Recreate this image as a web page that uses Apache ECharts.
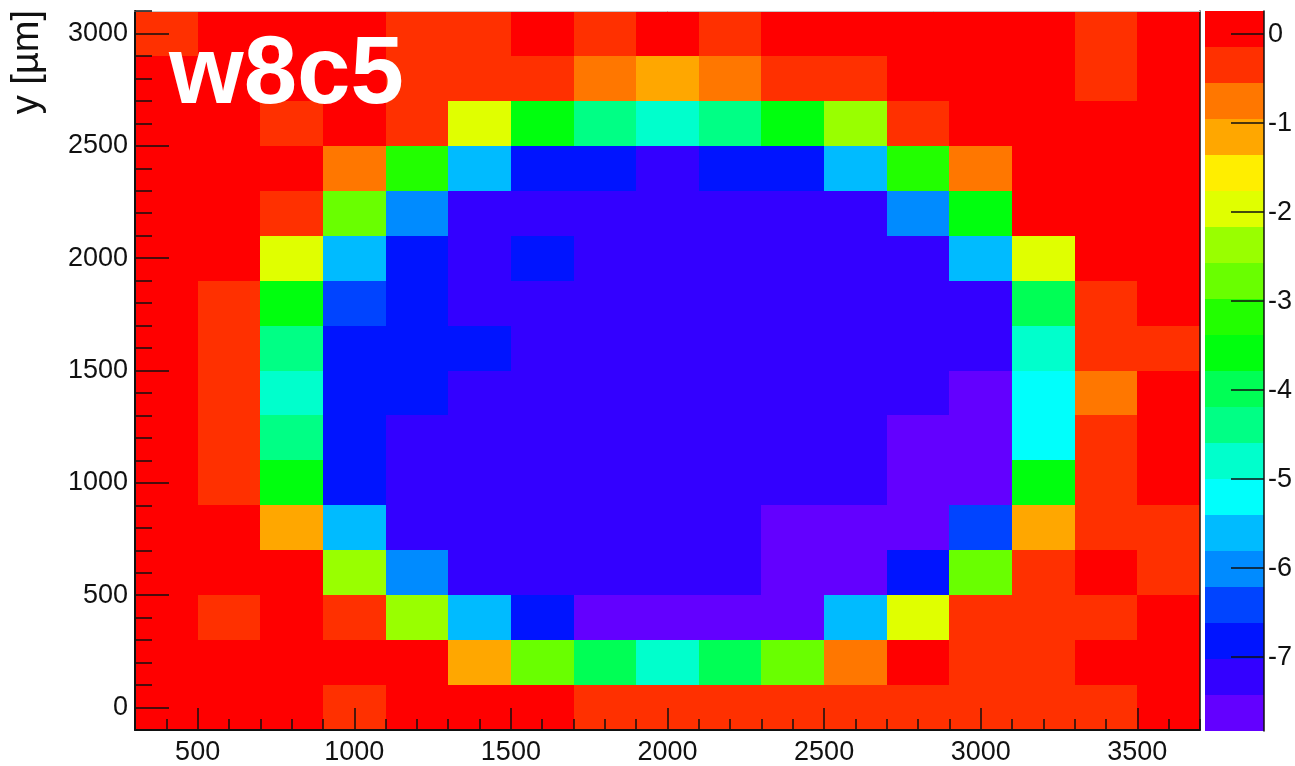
<!DOCTYPE html>
<html>
<head>
<meta charset="utf-8">
<script src="https://cdn.jsdelivr.net/npm/echarts@6/dist/echarts.min.js"></script>
<style>
  html, body { margin: 0; padding: 0; background: #fff; }
  #chart { width: 1295px; height: 766px; }
</style>
</head>
<body>
<div id="chart"></div>
<script>
// Bin centres of the 2D histogram (µm)
const xBins = [400, 600, 800, 1000, 1200, 1400, 1600, 1800, 2000, 2200, 2400, 2600, 2800, 3000, 3200, 3400, 3600];
const yBins = [0, 200, 400, 600, 800, 1000, 1200, 1400, 1600, 1800, 2000, 2200, 2400, 2600, 2800, 3000];

// Cell contents, one row per y bin, listed along x
const z0    = [0.05, 0.05, 0.05, -0.35, 0.05, 0.05, 0.05, -0.35, -0.35, -0.35, -0.35, -0.35, -0.35, -0.35, -0.35, -0.35, 0.05];
const z200  = [0.05, 0.05, 0.05, 0.05, 0.05, -1.15, -2.75, -4.0, -4.8, -4.0, -2.75, -0.75, 0.05, -0.35, -0.35, 0.05, 0.05];
const z400  = [0.05, -0.35, 0.05, -0.35, -2.35, -5.6, -6.8, -7.6, -7.6, -7.6, -7.6, -5.6, -1.95, -0.35, -0.35, -0.35, 0.05];
const z600  = [0.05, 0.05, 0.05, -2.35, -6.0, -7.2, -7.2, -7.2, -7.2, -7.2, -7.6, -7.6, -6.8, -2.75, -0.35, 0.05, -0.35];
const z800  = [0.05, 0.05, -1.15, -5.6, -7.2, -7.2, -7.2, -7.2, -7.2, -7.2, -7.6, -7.6, -7.6, -6.4, -1.15, -0.35, -0.35];
const z1000 = [0.05, -0.35, -3.6, -6.8, -7.2, -7.2, -7.2, -7.2, -7.2, -7.2, -7.2, -7.2, -7.6, -7.6, -3.6, -0.35, 0.05];
const z1200 = [0.05, -0.35, -4.4, -6.8, -7.2, -7.2, -7.2, -7.2, -7.2, -7.2, -7.2, -7.2, -7.6, -7.6, -5.2, -0.35, 0.05];
const z1400 = [0.05, -0.35, -4.8, -6.8, -6.8, -7.2, -7.2, -7.2, -7.2, -7.2, -7.2, -7.2, -7.2, -7.6, -5.2, -0.75, 0.05];
const z1600 = [0.05, -0.35, -4.4, -6.8, -6.8, -6.8, -7.2, -7.2, -7.2, -7.2, -7.2, -7.2, -7.2, -7.2, -4.8, -0.35, -0.35];
const z1800 = [0.05, -0.35, -3.6, -6.4, -6.8, -7.2, -7.2, -7.2, -7.2, -7.2, -7.2, -7.2, -7.2, -7.2, -4.0, -0.35, 0.05];
const z2000 = [0.05, 0.05, -1.95, -5.6, -6.8, -7.2, -6.8, -7.2, -7.2, -7.2, -7.2, -7.2, -7.2, -5.6, -1.95, 0.05, 0.05];
const z2200 = [0.05, 0.05, -0.35, -2.75, -6.0, -7.2, -7.2, -7.2, -7.2, -7.2, -7.2, -7.2, -6.0, -3.6, 0.05, 0.05, 0.05];
const z2400 = [0.05, 0.05, 0.05, -0.75, -3.2, -5.6, -6.8, -6.8, -7.2, -6.8, -6.8, -5.6, -3.2, -0.75, 0.05, 0.05, 0.05];
const z2600 = [0.05, 0.05, -0.35, 0.05, -0.35, -1.95, -3.6, -4.4, -4.8, -4.4, -3.6, -2.35, -0.35, 0.05, 0.05, 0.05, 0.05];
const z2800 = [0.05, 0.05, 0.05, 0.05, -0.35, -0.35, -0.35, -0.75, -1.15, -0.75, -0.35, -0.35, 0.05, 0.05, 0.05, -0.35, 0.05];
const z3000 = [-0.35, 0.05, 0.05, 0.05, -0.35, -0.35, 0.05, -0.35, 0.05, -0.35, 0.05, 0.05, 0.05, 0.05, 0.05, -0.35, 0.05];
const zRows = [z0, z200, z400, z600, z800, z1000, z1200, z1400, z1600, z1800, z2000, z2200, z2400, z2600, z2800, z3000];

// Axis tick labels
const xMajorTicks = [500, 1000, 1500, 2000, 2500, 3000, 3500];
const yMajorTicks = [0, 500, 1000, 1500, 2000, 2500, 3000];
const zTicks = [0, -1, -2, -3, -4, -5, -6, -7];

// Colour scale: 20 contour levels between the z limits, lowest first
const zMin = -7.83;
const zMax = 0.26;
const paletteColors = [
  '#6300FF', '#3300FF', '#0014FF', '#0044FF', '#008BFF',
  '#00BBFF', '#00FFFC', '#00FFCC', '#00FF85', '#00FF55',
  '#00FF0E', '#22FF00', '#69FF00', '#99FF00', '#E0FF00',
  '#FFEE00', '#FFA700', '#FF7700', '#FF3000', '#FF0000'
];

// ---- derived structures ----
const binW = xBins[1] - xBins[0];
const binH = yBins[1] - yBins[0];
const xMin = xBins[0] - binW / 2, xMax = xBins[xBins.length - 1] + binW / 2;
const yMin = yBins[0] - binH / 2, yMax = yBins[yBins.length - 1] + binH / 2;

const cells = [];
yBins.forEach((y, j) => zRows[j].forEach((z, i) => cells.push([xBins[i], y, z])));

const zStep = (zMax - zMin) / paletteColors.length;
const pieces = paletteColors.map((c, i) => ({ min: zMin + i * zStep, max: zMin + (i + 1) * zStep, color: c }));
const paletteBands = paletteColors.map((c, i) => [0.5, zMin + i * zStep, zMin + (i + 1) * zStep, i]);

function range(a, b, s) { const out = []; for (let v = a; v <= b + 1e-9; v += s) out.push(v); return out; }
const xMinorTicks = range(xMin, xMax, 100);
const yMinorTicks = range(yMin, yMax, 100);

const FONT = '"Liberation Sans", Arial, Helvetica, sans-serif';
const INK = '#111';
const plain = v => String(v);

const labelStyle = { color: INK, fontSize: 27, fontFamily: FONT, formatter: plain };

const chart = echarts.init(document.getElementById('chart'), null, { renderer: 'canvas' });

chart.setOption({
  animation: false,
  backgroundColor: '#fff',
  grid: [
    { left: 135, top: 11, width: 1065, height: 721 },
    { left: 1205, top: 11, width: 61, height: 720 }
  ],
  xAxis: [
    { gridIndex: 0, type: 'value', min: xMin, max: xMax, position: 'bottom', z: 10,
      axisLine: { onZero: false, lineStyle: { color: INK, width: 2 } },
      axisTick: { inside: true, length: 22, customValues: xMajorTicks, lineStyle: { color: INK, width: 1.5 } },
      axisLabel: Object.assign({ customValues: xMajorTicks, margin: 9 }, labelStyle),
      splitLine: { show: false } },
    { gridIndex: 0, type: 'value', min: xMin, max: xMax, position: 'bottom', z: 10,
      axisLine: { show: false, onZero: false },
      axisTick: { inside: true, length: 11, customValues: xMinorTicks, lineStyle: { color: INK, width: 1.5 } },
      axisLabel: { show: false }, splitLine: { show: false } },
    { gridIndex: 0, type: 'value', min: xMin, max: xMax, position: 'top', z: 10,
      axisLine: { onZero: false, lineStyle: { color: '#c8c8c8', width: 1 } },
      axisTick: { show: false }, axisLabel: { show: false }, splitLine: { show: false } },
    { gridIndex: 1, type: 'value', min: 0, max: 1, show: false, axisLine: { onZero: false } }
  ],
  yAxis: [
    { gridIndex: 0, type: 'value', min: yMin, max: yMax, position: 'left', z: 10,
      axisLine: { onZero: false, lineStyle: { color: INK, width: 2 } },
      axisTick: { inside: true, length: 34, customValues: yMajorTicks, lineStyle: { color: INK, width: 1.5 } },
      axisLabel: Object.assign({ customValues: yMajorTicks, margin: 7 }, labelStyle),
      splitLine: { show: false } },
    { gridIndex: 0, type: 'value', min: yMin, max: yMax, position: 'left', z: 10,
      axisLine: { show: false, onZero: false },
      axisTick: { inside: true, length: 17, customValues: yMinorTicks, lineStyle: { color: INK, width: 1.5 } },
      axisLabel: { show: false }, splitLine: { show: false } },
    { gridIndex: 0, type: 'value', min: yMin, max: yMax, position: 'right', z: 10,
      axisLine: { onZero: false, lineStyle: { color: INK, width: 1.5 } },
      axisTick: { show: false }, axisLabel: { show: false }, splitLine: { show: false } },
    { gridIndex: 1, type: 'value', min: zMin, max: zMax, position: 'right', z: 10,
      axisLine: { onZero: false, lineStyle: { color: INK, width: 1.5 } },
      axisTick: { inside: true, length: 33, customValues: zTicks, lineStyle: { color: INK, width: 1.5 } },
      axisLabel: Object.assign({ customValues: zTicks, margin: 4 }, labelStyle),
      splitLine: { show: false } }
  ],
  visualMap: {
    type: 'piecewise', show: false, seriesIndex: 0, dimension: 2, pieces: pieces
  },
  series: [
    {
      name: 'map', type: 'custom', xAxisIndex: 0, yAxisIndex: 0, silent: true, z: 2,
      encode: { x: 0, y: 1 },
      data: cells,
      renderItem: function (params, api) {
        const x = api.value(0), y = api.value(1);
        const p0 = api.coord([x - binW / 2, y + binH / 2]);
        const p1 = api.coord([x + binW / 2, y - binH / 2]);
        const x0 = Math.round(p0[0]), y0 = Math.round(p0[1]);
        const x1 = Math.round(p1[0]), y1 = Math.round(p1[1]);
        return { type: 'rect', shape: { x: x0, y: y0, width: x1 - x0, height: y1 - y0 },
                 style: { fill: api.visual('color') } };
      }
    },
    {
      name: 'palette', type: 'custom', xAxisIndex: 3, yAxisIndex: 3, silent: true, z: 2,
      encode: { x: 0, y: [1, 2] },
      data: paletteBands,
      renderItem: function (params, api) {
        const p0 = api.coord([0, api.value(2)]);
        const p1 = api.coord([1, api.value(1)]);
        const x0 = Math.round(p0[0]), y0 = Math.round(p0[1]);
        const x1 = Math.round(p1[0]), y1 = Math.round(p1[1]);
        return { type: 'rect', shape: { x: x0, y: y0, width: x1 - x0, height: y1 - y0 },
                 style: { fill: paletteColors[api.value(3)] } };
      }
    }
  ],
  graphic: [
    { type: 'text', x: 169, y: 77, z: 100, silent: true,
      style: { text: 'w8c5', fill: '#fff', fontSize: 96, fontWeight: 'bold', fontFamily: FONT,
               align: 'left', verticalAlign: 'middle' } },
    { type: 'text', x: 28, y: 10, rotation: Math.PI / 2, z: 100, silent: true,
      style: { text: 'y [µm]', fill: INK, fontSize: 38, fontFamily: FONT,
               align: 'right', verticalAlign: 'middle' } }
  ]
});
</script>
</body>
</html>
